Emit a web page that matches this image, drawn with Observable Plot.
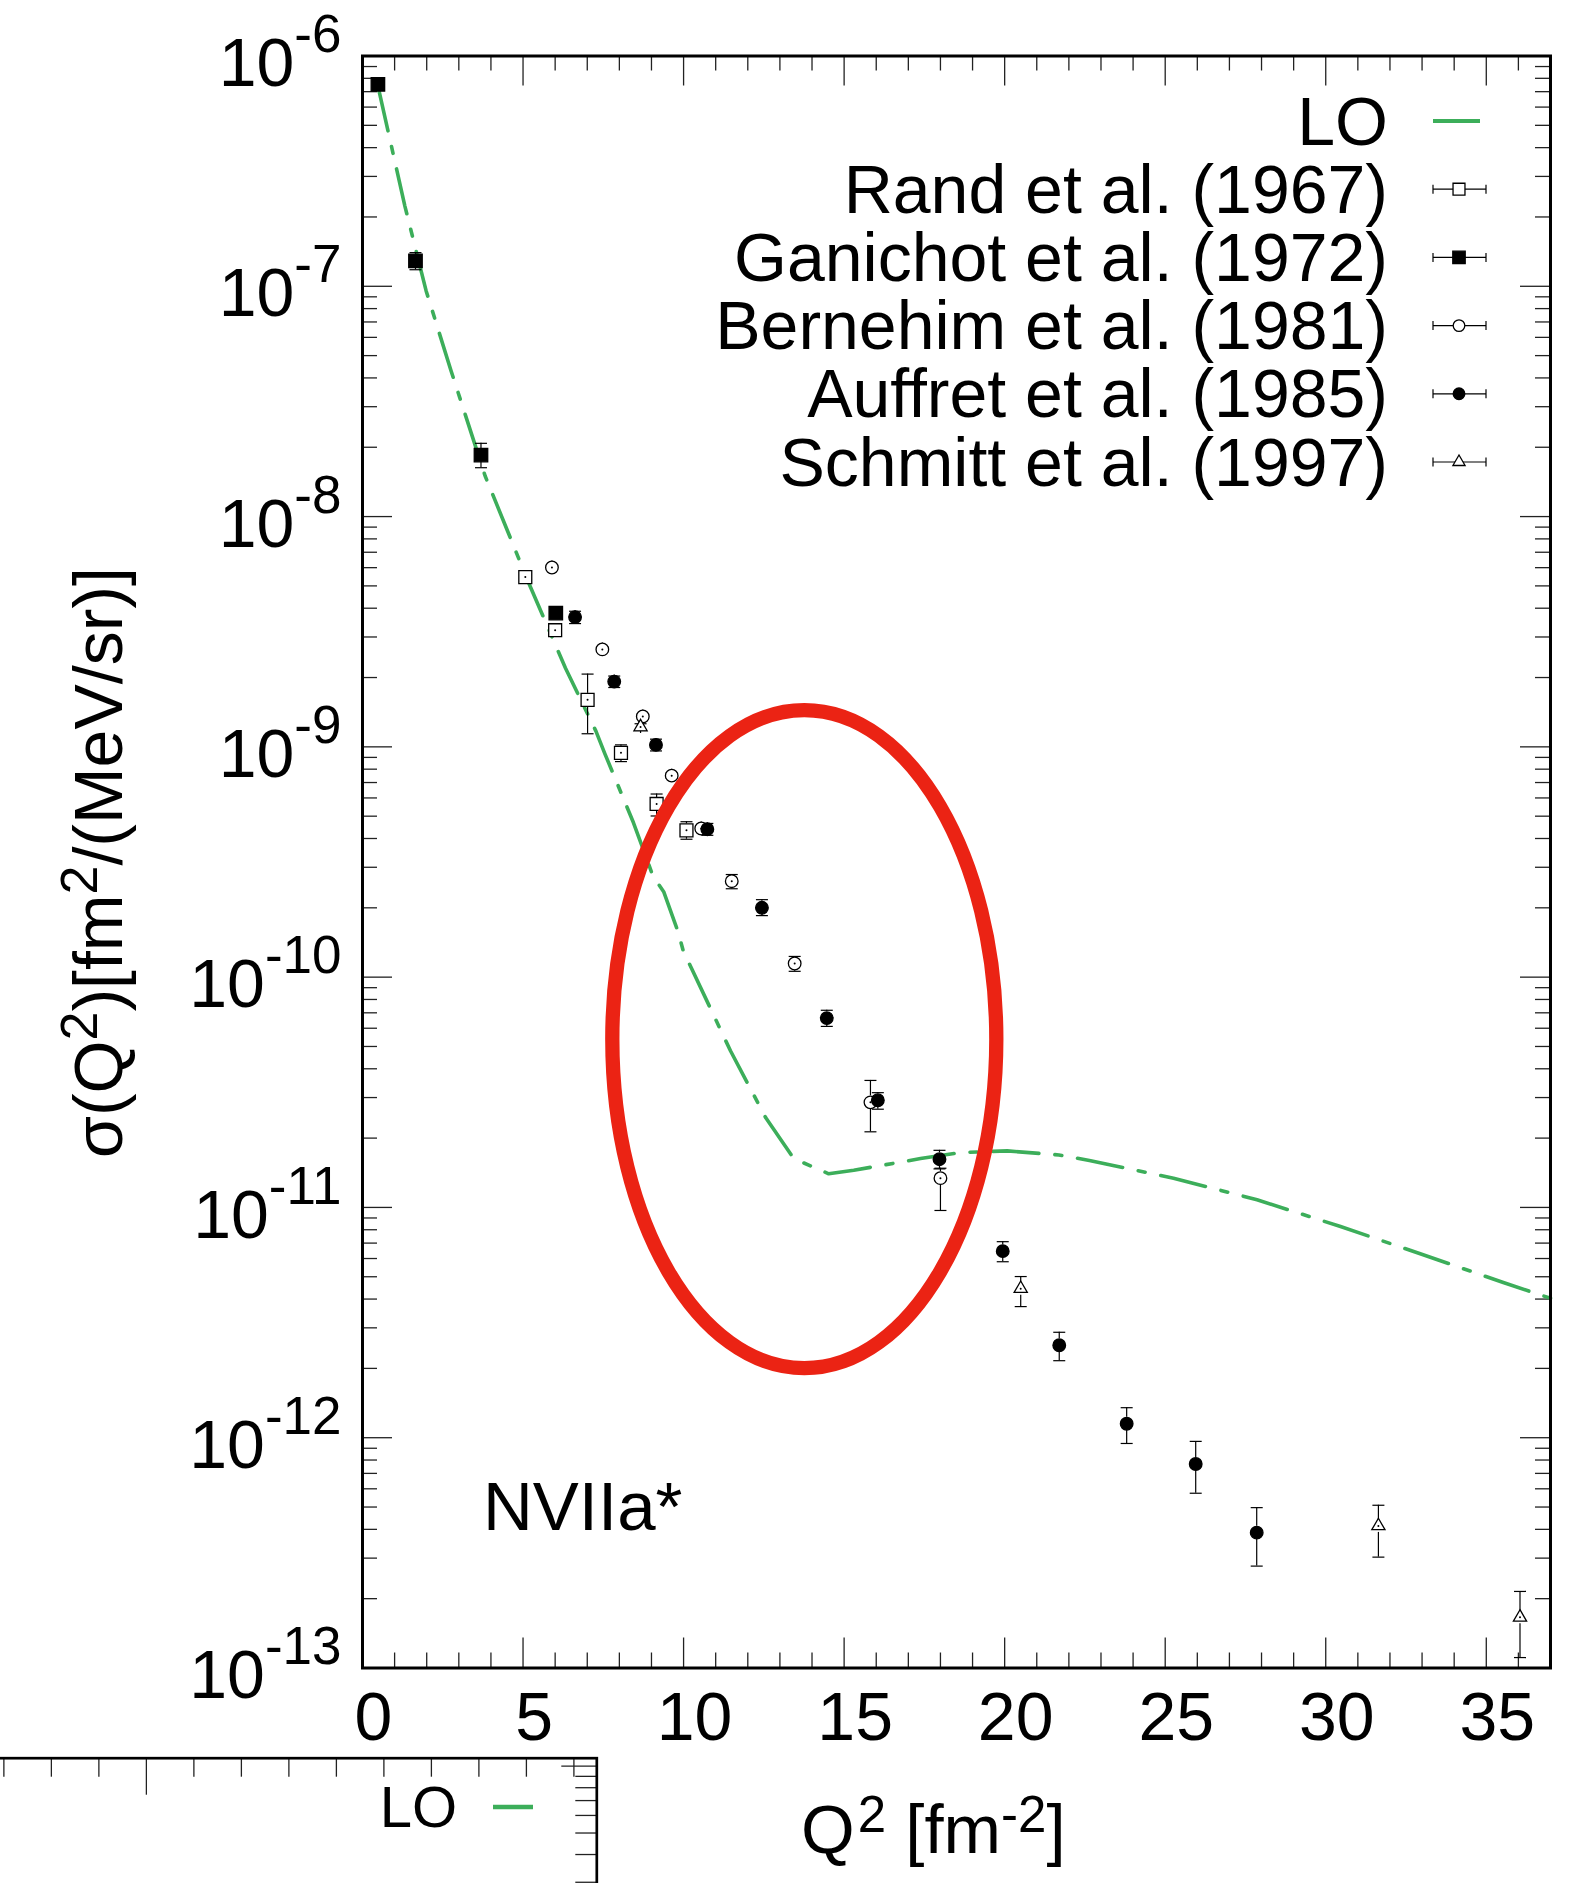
<!DOCTYPE html>
<html>
<head>
<meta charset="utf-8">
<script src="https://cdn.jsdelivr.net/npm/d3@7"></script>
<script src="https://cdn.jsdelivr.net/npm/@observablehq/plot@0.6"></script>
<style>
  html, body { margin: 0; padding: 0; background: #fff; }
  #wrap { position: relative; width: 1588px; height: 1883px; overflow: hidden; background: #fff; }
  #wrap svg { position: absolute; }
</style>
</head>
<body>
<div id="wrap"></div>
<script>
// ---------------- DATA ----------------
const seriesNames = ["Rand et al. (1967)", "Ganichot et al. (1972)", "Bernehim et al. (1981)", "Auffret et al. (1985)", "Schmitt et al. (1997)"];
const curveName = "LO";

// LO theory curve
const loQ = [0.48, 1.32, 1.98, 2.76, 3.82, 4.54, 5.15, 6.32, 7.27, 7.55, 8.44, 9.05, 9.38, 9.83, 9.99, 11.46, 12.56, 13.43, 14.52, 15.30, 17.38, 18.62, 20.08, 21.69, 22.64, 25.26, 27.86, 30.46, 32.92, 35.53, 37.0];
const loS = [7.41e-7, 2.23e-7, 9.57e-8, 4.29e-8, 1.50e-8, 8.51e-9, 5.25e-9, 2.20e-9, 1.17e-9, 9.33e-10, 4.68e-10, 2.74e-10, 2.35e-10, 1.57e-10, 1.30e-10, 4.79e-11, 2.45e-11, 1.63e-11, 1.40e-11, 1.45e-11, 1.63e-11, 1.73e-11, 1.76e-11, 1.69e-11, 1.60e-11, 1.34e-11, 1.08e-11, 8.26e-12, 6.31e-12, 4.72e-12, 4.03e-12];

// Rand et al. (1967)
const randQ  = [5.07, 6.00, 7.01, 8.05, 9.16, 10.09];
const randS  = [5.46e-9, 3.21e-9, 1.60e-9, 9.42e-10, 5.65e-10, 4.34e-10];
const randHi = [5.60e-9, 3.30e-9, 2.07e-9, 1.02e-9, 6.24e-10, 4.73e-10];
const randLo = [5.30e-9, 3.10e-9, 1.14e-9, 8.63e-10, 5.01e-10, 3.97e-10];

// Ganichot et al. (1972)
const ganQ  = [0.48, 1.65, 3.69, 6.02];
const ganS  = [7.53e-7, 1.29e-7, 1.85e-8, 3.81e-9];
const ganHi = [7.80e-7, 1.40e-7, 2.08e-8, 3.95e-9];
const ganLo = [7.30e-7, 1.18e-7, 1.63e-8, 3.67e-9];

// Bernehim et al. (1981)
const berQ  = [5.90, 7.47, 8.73, 9.63, 10.55, 11.50, 13.46, 15.82, 18.00];
const berS  = [6.01e-9, 2.65e-9, 1.355e-9, 7.50e-10, 4.42e-10, 2.61e-10, 1.146e-10, 2.86e-11, 1.34e-11];
const berHi = [6.15e-9, 2.71e-9, 1.39e-9, 7.70e-10, 4.55e-10, 2.79e-10, 1.23e-10, 3.56e-11, 1.48e-11];
const berLo = [5.87e-9, 2.59e-9, 1.32e-9, 7.30e-10, 4.30e-10, 2.42e-10, 1.06e-10, 2.13e-11, 9.70e-12];

// Auffret et al. (1985)
const aufQ  = [6.62, 7.84, 9.14, 10.74, 12.44, 14.46, 16.05, 17.97, 19.94, 21.70, 23.80, 25.95, 27.85];
const aufS  = [3.66e-9, 1.92e-9, 1.02e-9, 4.39e-10, 2.00e-10, 6.64e-11, 2.92e-11, 1.62e-11, 6.46e-12, 2.52e-12, 1.15e-12, 7.69e-13, 3.87e-13];
const aufHi = [3.88e-9, 2.03e-9, 1.08e-9, 4.65e-10, 2.17e-10, 7.18e-11, 3.15e-11, 1.77e-11, 7.10e-12, 2.87e-12, 1.35e-12, 9.64e-13, 4.97e-13];
const aufLo = [3.43e-9, 1.81e-9, 0.96e-9, 4.13e-10, 1.85e-10, 6.11e-11, 2.67e-11, 1.47e-11, 5.81e-12, 2.16e-12, 9.44e-13, 5.74e-13, 2.77e-13];

// Schmitt et al. (1997)
const schQ  = [8.66, 20.50, 31.64, 36.05];
const schS  = [1.22e-9, 4.44e-12, 4.14e-13, 1.66e-13];
const schHi = [1.26e-9, 5.01e-12, 5.09e-13, 2.15e-13];
const schLo = [1.18e-9, 3.71e-12, 3.03e-13, 1.11e-13];

// Axis ticks / labels
const xTicks = [0, 5, 10, 15, 20, 25, 30, 35];
const xMinorTicks = [1, 2, 3, 4, 6, 7, 8, 9, 11, 12, 13, 14, 16, 17, 18, 19, 21, 22, 23, 24, 26, 27, 28, 29, 31, 32, 33, 34, 36];
const yDecades = [1e-13, 1e-12, 1e-11, 1e-10, 1e-9, 1e-8, 1e-7, 1e-6];
const xDomain = [0, 37];
const yDomain = [1e-13, 1e-6];

// annotation: red ellipse centre (data units)
const ellipseQ = 13.76;
const ellipseS = 5.38e-11;
const panelLabel = "NVIIa*";

// ---------------- BUILD ----------------
const FONT = "'Liberation Sans', Arial, Helvetica, sans-serif";
const GREEN = "#3cae5a";
const RED = "#eb2314";
const W = 1588, H = 1883;
const mL = 362, mR = 38, mT = 55.5, mB = 215.5;
const frameW = W - mL - mR, frameH = H - mT - mB;

const table = (Q, S, Lo, Hi) => Q.map((q, i) => ({q, s: S[i], lo: Lo ? Lo[i] : null, hi: Hi ? Hi[i] : null}));
const loData = table(loQ, loS);
const seriesData = [
  table(randQ, randS, randLo, randHi),
  table(ganQ, ganS, ganLo, ganHi),
  table(berQ, berS, berLo, berHi),
  table(aufQ, aufS, aufLo, aufHi),
  table(schQ, schS, schLo, schHi)
];
const seriesStyle = [
  {symbol: "square",   r: 7.3, fill: "#fff", hollow: true},
  {symbol: "square",   r: 7.6, fill: "#000", hollow: false},
  {symbol: "circle",   r: 6.3, fill: "#fff", hollow: true},
  {symbol: "circle",   r: 6.3, fill: "#000", hollow: false},
  {symbol: "triangle", r: 4.9, fill: "#fff", hollow: true}
];
const yMinor = yDecades.slice(0, -1).flatMap(d => [2, 3, 4, 5, 6, 7, 8, 9].map(m => d * m));

const capSymbol = {draw(ctx, size) { const w = Math.sqrt(size / Math.PI); ctx.moveTo(-w, 0); ctx.lineTo(w, 0); }};
const ellipseSymbol = {draw(ctx) {
  const rx = 192, ry = 329, k = 0.5523;
  ctx.moveTo(rx, 0);
  ctx.bezierCurveTo(rx, ry * k, rx * k, ry, 0, ry);
  ctx.bezierCurveTo(-rx * k, ry, -rx, ry * k, -rx, 0);
  ctx.bezierCurveTo(-rx, -ry * k, -rx * k, -ry, 0, -ry);
  ctx.bezierCurveTo(rx * k, -ry, rx, -ry * k, rx, 0);
  ctx.closePath();
}};

const tickStyle = {stroke: "#222", strokeWidth: 1.3};
const errStyle = {stroke: "#000", strokeWidth: 1.2};

const marks = [
  Plot.tickX(xMinorTicks, {x: d => d, insetBottom: frameH - 15, ...tickStyle}),
  Plot.tickX(xTicks, {x: d => d, insetBottom: frameH - 30, ...tickStyle}),
  Plot.tickX(xMinorTicks, {x: d => d, insetTop: frameH - 15, ...tickStyle}),
  Plot.tickX(xTicks, {x: d => d, insetTop: frameH - 30, ...tickStyle}),
  Plot.tickY(yMinor, {y: d => d, insetRight: frameW - 15, ...tickStyle}),
  Plot.tickY(yDecades, {y: d => d, insetRight: frameW - 30, ...tickStyle}),
  Plot.tickY(yMinor, {y: d => d, insetLeft: frameW - 15, ...tickStyle}),
  Plot.tickY(yDecades, {y: d => d, insetLeft: frameW - 30, ...tickStyle}),
  Plot.line(loData, {x: "q", y: "s", stroke: GREEN, strokeWidth: 3.6, strokeDasharray: "46,16,7,16"})
];
seriesData.forEach((data, i) => {
  marks.push(
    Plot.ruleX(data, {x: "q", y1: "hi", y2: "s", insetBottom: 6.5, ...errStyle}),
    Plot.ruleX(data, {x: "q", y1: "s", y2: "lo", insetTop: 6.5, ...errStyle}),
    Plot.dot(data, {x: "q", y: "hi", symbol: capSymbol, r: 6, fill: "none", ...errStyle}),
    Plot.dot(data, {x: "q", y: "lo", symbol: capSymbol, r: 6, fill: "none", ...errStyle})
  );
});
seriesData.forEach((data, i) => {
  const st = seriesStyle[i];
  marks.push(Plot.dot(data, {x: "q", y: "s", symbol: st.symbol, r: st.r, fill: st.fill, stroke: "#000", strokeWidth: 1.3}));
  if (st.hollow) marks.push(Plot.dot(data, {x: "q", y: "s", r: 1, fill: "#000", stroke: "none"}));
});
marks.push(
  Plot.dot([{q: ellipseQ, s: ellipseS}], {x: "q", y: "s", symbol: ellipseSymbol, r: 10, fill: "none", stroke: RED, strokeWidth: 14.3}),
  Plot.frame({stroke: "#000", strokeWidth: 3}),
  Plot.axisX(xTicks, {tickSize: 0, tickPadding: 24, fontSize: 68, dx: 11, tickFormat: d => String(d), label: null}),
  Plot.axisY(yDecades, {tickSize: 0, tickPadding: 21, fontSize: 68, dy: 8.4, tickFormat: d => "10^" + Math.round(Math.log10(d)), label: null})
);

const main = Plot.plot({
  width: W, height: H,
  marginLeft: mL, marginRight: mR, marginTop: mT, marginBottom: mB,
  x: {domain: xDomain},
  y: {type: "log", domain: yDomain},
  style: {fontFamily: FONT, background: "transparent", color: "#000", overflow: "visible"},
  marks
});
main.style.left = "0px"; main.style.top = "0px";

const svg = d3.select(main);
// superscript exponents on y tick labels
svg.selectAll('g[aria-label="y-axis tick label"] text').each(function () {
  const [b, e] = this.textContent.split("^");
  const t = d3.select(this);
  t.text(null);
  t.append("tspan").text(b);
  t.append("tspan").attr("font-size", 53).attr("dy", -34).text(e);
});

const g = svg.append("g").attr("font-family", FONT).attr("fill", "#000").attr("text-anchor", "start");

// y title
const yt = g.append("text").attr("transform", "translate(122,1158) rotate(-90)").attr("font-size", 68).attr("text-anchor", "start");
yt.append("tspan").text("σ(Q");
yt.append("tspan").attr("font-size", 52).attr("dy", -25).text("2");
yt.append("tspan").attr("dy", 25).text(")[fm");
yt.append("tspan").attr("font-size", 52).attr("dy", -25).text("2");
yt.append("tspan").attr("dy", 25).text("/(MeV/sr)]");

// x title
const xt = g.append("text").attr("x", 801).attr("y", 1853).attr("font-size", 69).attr("text-anchor", "start");
xt.append("tspan").text("Q");
xt.append("tspan").attr("font-size", 51).attr("dy", -21).attr("dx", 3).text("2");
xt.append("tspan").attr("dy", 21).text(" [fm");
xt.append("tspan").attr("font-size", 51).attr("dy", -21).text("-2");
xt.append("tspan").attr("dy", 21).text("]");

// panel label
g.append("text").attr("x", 483).attr("y", 1530).attr("font-size", 69).attr("text-anchor", "start").text(panelLabel);

// legend
const legTextX = 1388, legY0 = 144.5, legDY = 68.2, legMX = 1459;
const d3sym = {square: d3.symbolSquare, circle: d3.symbolCircle, triangle: d3.symbolTriangle};
[curveName, ...seriesNames].forEach((name, i) => {
  const yb = legY0 + i * legDY, cy = yb - 23.5;
  g.append("text").attr("x", legTextX).attr("y", yb).attr("text-anchor", "end").attr("font-size", 68).text(name);
  if (i === 0) {
    g.append("line").attr("x1", 1433).attr("x2", 1480).attr("y1", cy).attr("y2", cy)
      .attr("stroke", GREEN).attr("stroke-width", 4);
  } else {
    const st = seriesStyle[i - 1];
    const lg = g.append("g").attr("stroke", "#000").attr("stroke-width", 1.2);
    lg.append("line").attr("x1", 1433).attr("x2", 1486).attr("y1", cy).attr("y2", cy);
    lg.append("line").attr("x1", 1433).attr("x2", 1433).attr("y1", cy - 4.5).attr("y2", cy + 4.5);
    lg.append("line").attr("x1", 1486).attr("x2", 1486).attr("y1", cy - 4.5).attr("y2", cy + 4.5);
    const sz = st.r * st.r * Math.PI * 0.85;
    lg.append("path").attr("d", d3.symbol(d3sym[st.symbol], sz)()).attr("transform", `translate(${legMX},${cy})`)
      .attr("fill", st.fill).attr("stroke-width", 1.3);
  }
});

document.getElementById("wrap").appendChild(main);

// ---------------- stray partial panel (cropped neighbour) ----------------
const strayXMinor = [-1.5, -1, -0.5, 0.5, 1, 1.5, 2, 2.5, 3, 3.5, 4, 4.5];
const strayXMajor = [0];
const strayYMajor = [1e-12];
const strayYMinor = [9e-13, 8e-13, 7e-13, 6e-13, 5e-13, 4e-13, 3e-13, 2e-13];
const sW = 660, sH = 400, smT = 57.7, smR = 43.7;
const stray = Plot.plot({
  width: sW, height: sH, marginLeft: 0, marginRight: smR, marginTop: smT, marginBottom: 0,
  x: {domain: [-1.746, 4.741], axis: null},
  y: {type: "log", domain: [Math.pow(10, -13.506), Math.pow(10, -11.964)], axis: null},
  style: {fontFamily: FONT, background: "transparent", overflow: "visible"},
  marks: [
    Plot.tickX(strayXMinor, {x: d => d, insetBottom: (sH - smT) - 19, ...tickStyle}),
    Plot.tickX(strayXMajor, {x: d => d, insetBottom: (sH - smT) - 37, ...tickStyle}),
    Plot.tickY(strayYMinor, {y: d => d, insetLeft: (sW - smR) - 21, ...tickStyle}),
    Plot.tickY(strayYMajor, {y: d => d, insetLeft: (sW - smR) - 35, ...tickStyle}),
    Plot.frame({stroke: "#000", strokeWidth: 2.7})
  ]
});
stray.style.left = "-20px"; stray.style.top = "1700px";
const sg = d3.select(stray).append("g").attr("font-family", FONT);
sg.append("text").attr("x", 477).attr("y", 126.7).attr("text-anchor", "end").attr("font-size", 58).text(curveName);
sg.append("line").attr("x1", 513).attr("x2", 553).attr("y1", 107).attr("y2", 107).attr("stroke", GREEN).attr("stroke-width", 4.3);
document.getElementById("wrap").appendChild(stray);
</script>
</body>
</html>
